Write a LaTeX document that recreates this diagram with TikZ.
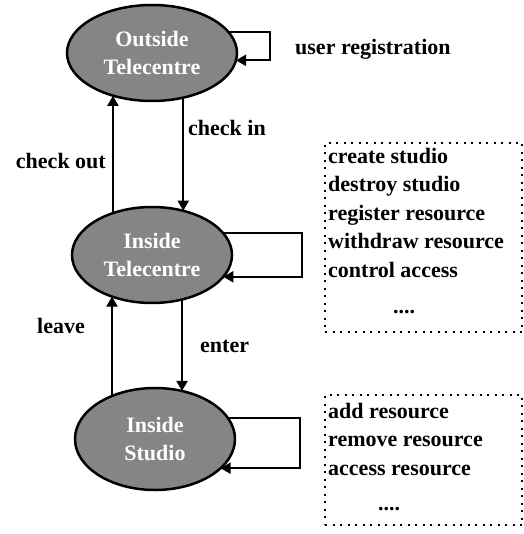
\documentclass[tikz,border=0pt]{standalone}
\usepackage{fontspec}
\setmainfont{Liberation Serif}
\usetikzlibrary{shapes.geometric,arrows.meta}
\begin{document}
\begin{tikzpicture}[x=1pt,y=-1pt,
  every node/.style={font=\fontsize{22}{28.5}\selectfont\bfseries},
  state/.style={ellipse, draw=black, line width=2.5pt, fill=black!48, text=white, inner sep=0pt, outer sep=0pt, align=center},
  arr/.style={line width=2pt, -{Triangle[length=10pt,width=11pt]}},
  dotbox/.style={draw, line width=2pt, dash pattern=on 2pt off 5.5pt, minimum width=197pt, anchor=north west, inner sep=0pt, outer sep=0pt},
  lbl/.style={inner sep=0pt}]
\useasboundingbox (0,0) rectangle (523,534);

% states
\node[state, minimum width=170pt, minimum height=96pt] (out) at (152,53) {Outside\\Telecentre};
\node[state, minimum width=160pt, minimum height=96pt] (in) at (152,255) {Inside\\Telecentre};
\node[state, minimum width=160pt, minimum height=102pt] (st) at (155,439) {Inside\\Studio};

% self loops
\coordinate (rOut) at (270,47);
\coordinate (rIn) at (302,255);
\coordinate (rSt) at (300,443);
\draw[arr] (out.15) -| (rOut) |- (out.-5);
\draw[arr] (in.17) -| (rIn) |- (in.-17);
\draw[arr] (st.16) -| (rSt) |- (st.-24);

% transitions
\draw[arr] (in.133) -- (in.133 |- out.228);
\draw[arr] (out.-55) -- (out.-55 |- in.55);
\draw[arr] (st.135) -- (st.135 |- in.226);
\draw[arr] (in.-56) -- (in.-56 |- st.61);

% labels
\node[lbl, anchor=base west] (ur) at (295,55) {user registration};
\node[lbl, anchor=base west] (ci) at (188,136) {check in};
\node[lbl, anchor=base east] (co) at (106,169) {check out};
\node[lbl, anchor=base west] (lv) at (37,333) {leave};
\node[lbl, anchor=base west] (en) at (200,352) {enter};

% operation boxes
\node[dotbox, minimum height=189pt] (b1) at (325,143) {};
\node[lbl, anchor=north west, align=left] (t1) at (328,148) {create studio\\destroy studio\\register resource\\withdraw resource\\control access\\[8pt]\hspace*{65pt}....};
\node[dotbox, minimum height=130pt] (b2) at (325,395) {};
\node[lbl, anchor=north west, align=left] (t2) at (328,403) {add resource\\remove resource\\access resource\\[7pt]\hspace*{50pt}....};
\end{tikzpicture}
\end{document}
